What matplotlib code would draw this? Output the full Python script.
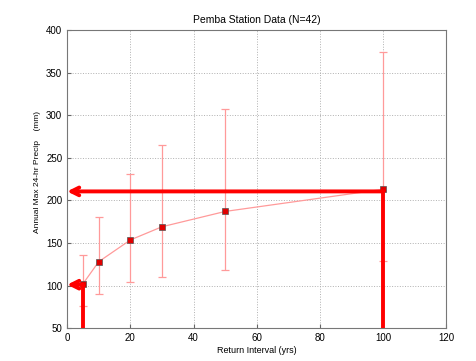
import matplotlib
matplotlib.use("Agg")
import matplotlib.pyplot as plt

plt.rcParams['font.family'] = ['Liberation Sans', 'DejaVu Sans']

# return intervals and fitted annual max precip with confidence bounds
return_yrs = [5, 10, 20, 30, 50, 100]
precip_mm = [102, 128, 153.5, 169, 187, 213]
upper_mm = [135.5, 181, 231.5, 265, 307.5, 374]
lower_mm = [75.5, 90.5, 104, 110.5, 118.5, 128.5]

design_yrs = [5, 100]
design_mm = [101, 210.5]

err_lo = [p - l for p, l in zip(precip_mm, lower_mm)]
err_hi = [u - p for p, u in zip(precip_mm, upper_mm)]

fig = plt.figure(figsize=(4.76, 3.61), dpi=100)
ax = fig.add_axes([0.141, 0.091, 0.797, 0.826])

ax.errorbar(return_yrs, precip_mm, yerr=[err_lo, err_hi], color='#ff9a9a',
            lw=0.9, capsize=3, capthick=0.9, zorder=3)
ax.plot(return_yrs, precip_mm, 's', color='#e00000', mec='#555555', mew=0.5,
        ms=4, zorder=4)

for x, y in zip(design_yrs, design_mm):
    ax.plot([x, x], [50, y], color='red', lw=2.8, zorder=5, solid_capstyle='butt')
    ax.annotate('', xy=(0, y), xytext=(x, y),
                arrowprops=dict(arrowstyle='->', color='red', lw=2.8,
                                mutation_scale=14, shrinkA=0, shrinkB=0),
                zorder=5)

ax.set_xlim(0, 120)
ax.set_ylim(50, 400)
ax.set_xticks(range(0, 121, 20))
ax.set_yticks(range(50, 401, 50))
ax.grid(True, linestyle=':', color='#b0b0b0', lw=0.7)
ax.tick_params(direction='in', labelsize=7, length=3, color='#666666')
for s in ax.spines.values():
    s.set_color('#777777')
    s.set_linewidth(0.8)

ax.set_title('Pemba Station Data (N=42)', fontsize=7.5, pad=5)
ax.set_xlabel('Return Interval (yrs)', fontsize=6.5, labelpad=2)
ax.set_ylabel('Annual Max 24-hr Precip    (mm)', fontsize=6, labelpad=1)
ax.yaxis.set_label_coords(-0.068, 0.525)

fig.savefig('out.png', dpi=100)
